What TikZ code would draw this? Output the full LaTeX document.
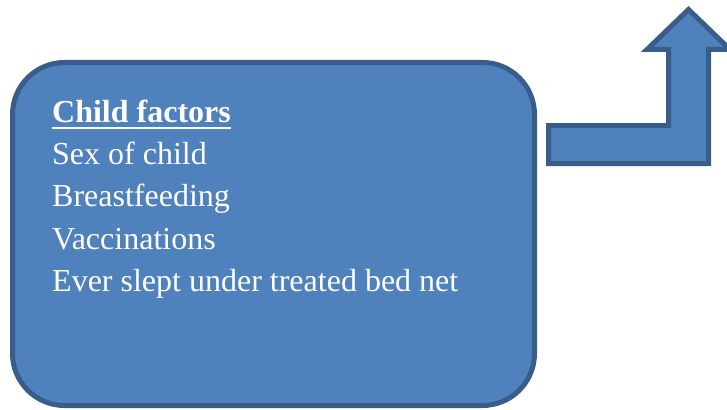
\documentclass[tikz,border=0pt]{standalone}
\usepackage{fontspec}
\setmainfont{Liberation Serif}
\definecolor{boxfill}{HTML}{4F81BD}
\definecolor{boxline}{HTML}{385D8A}
\begin{document}
\begin{tikzpicture}[x=1pt,y=-1pt,
  shapestyle/.style={fill=boxfill,draw=boxline,line width=5pt},
  linetext/.style={anchor=base west,inner sep=0pt,text=white,font=\fontsize{32}{42}\selectfont}]
\useasboundingbox (0,0) rectangle (727,409);
\clip (0,0) rectangle (727,409);
% rounded box
\draw[shapestyle,rounded corners=52pt] (12.5,62.5) rectangle (534.5,405.5);
% bent-up arrow
\draw[shapestyle,line join=miter]
  (548.5,125.5) -- (668.5,125.5) -- (668.5,49.5) -- (647,49.5) -- (688.5,9.5)
  -- (730,49.5) -- (708.5,49.5) -- (708.5,163.5) -- (548.5,163.5) -- cycle;
% text
\node[linetext] (cf) at (52,122.5) {\textbf{Child factors}};
\draw[white,line width=2.5pt] ([yshift=-5.5pt]cf.base west) -- ([yshift=-5.5pt]cf.base east);
\node[linetext] (l1) at (52,164.5) {Sex of child};
\node[linetext] (l2) at (52,206.5) {Breastfeeding};
\node[linetext] (l3) at (52,249.5) {Vaccinations};
\node[linetext] (l4) at (52,291.5) {Ever slept under treated bed net};
\end{tikzpicture}
\end{document}
